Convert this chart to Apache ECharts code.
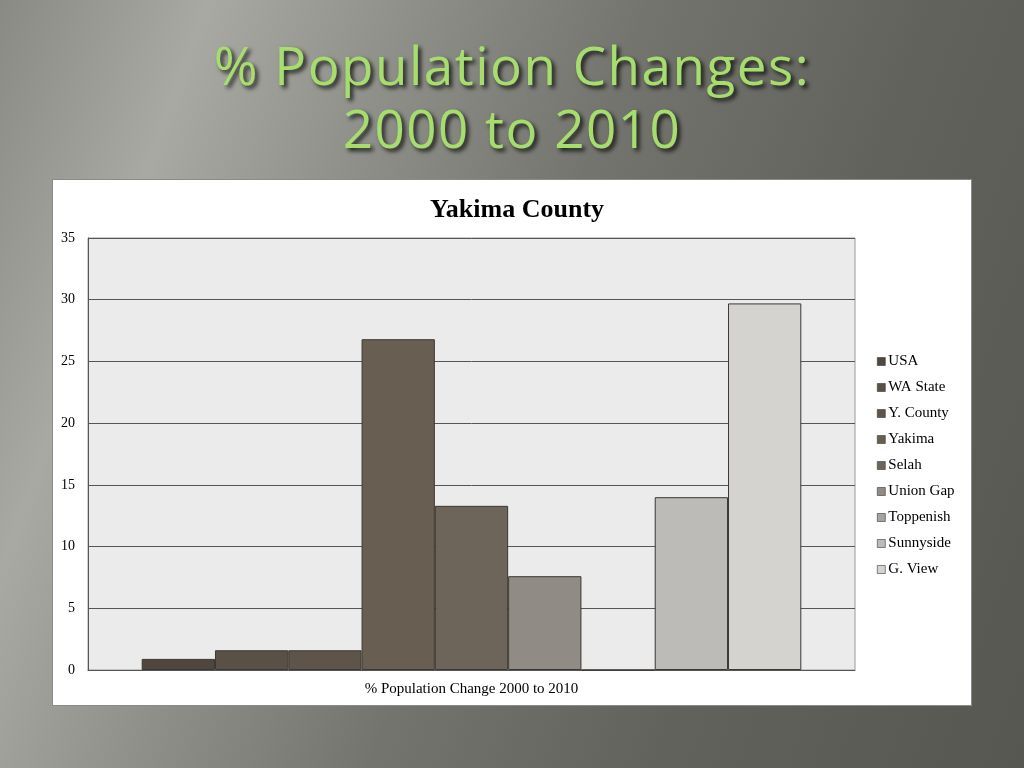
<!DOCTYPE html>
<html>
<head>
<meta charset="utf-8">
<title>% Population Changes: 2000 to 2010</title>
<script src="https://cdn.jsdelivr.net/npm/echarts@6/dist/echarts.min.js"></script>
<style>
    html, body {
        margin: 0;
        padding: 0;
        width: 1024px;
        height: 768px;
        overflow: hidden;
    }
    body {
        position: relative;
        background: linear-gradient(110deg, #8a8a84 0%, #a9a9a3 16%, #8f8f89 32%, #74746e 50%, #62625c 72%, #575751 100%);
    }
    .slide-title {
        position: absolute;
        left: 0;
        top: 33px;
        width: 1024px;
        margin: 0;
        text-align: center;
        font-family: "Open Sans", sans-serif;
        font-weight: normal;
        font-size: 53px;
        line-height: 63px;
        letter-spacing: 1.5px;
        color: #a6dd6e;
        text-shadow: 3px 3px 4px rgba(0, 0, 0, 0.8);
    }
    .panel {
        position: absolute;
        left: 52px;
        top: 179px;
        width: 918px;
        height: 525px;
        background: #ffffff;
        border: 1px solid #8a8a8a;
    }
    #chart {
        position: absolute;
        left: 0;
        top: 0;
        width: 1024px;
        height: 768px;
    }
</style>
</head>
<body>
<h1 class="slide-title">% Population Changes:<br>2000 to 2010</h1>
<div class="panel"></div>
<div id="chart"></div>
<script>
    // 数据
    var categories = ['% Population Change 2000 to 2010'];
    var seriesNames = ['USA', 'WA State', 'Y. County', 'Yakima', 'Selah', 'Union Gap', 'Toppenish', 'Sunnyside', 'G. View'];
    var seriesValues = [0.9, 1.6, 1.6, 26.8, 13.3, 7.6, 0, 14.0, 29.7];
    var seriesColors = ['#4f463d', '#595046', '#5e5449', '#685e52', '#6e655a', '#918b85', '#a6a4a0', '#bdbbb7', '#d4d3d0'];
    var yTicks = { min: 0, max: 35, interval: 5 };

    var serif = '"Liberation Serif", "DejaVu Serif", serif';

    var series = [];
    for (var i = 0; i < seriesNames.length; i++) {
        series.push({
            name: seriesNames[i],
            type: 'bar',
            barGap: '0%',
            barCategoryGap: '14%',
            itemStyle: {
                color: seriesColors[i],
                borderColor: '#3b3732',
                borderWidth: 1
            },
            data: [seriesValues[i]]
        });
    }

    var myChart = echarts.init(document.getElementById('chart'));
    myChart.setOption({
        animation: false,
        title: {
            text: 'Yakima County',
            left: 512,
            top: 192,
            textAlign: 'center',
            textStyle: {
                fontFamily: serif,
                fontWeight: 'bold',
                fontSize: 26,
                color: '#000'
            }
        },
        legend: {
            orient: 'vertical',
            left: 872,
            top: 349,
            icon: 'rect',
            itemWidth: 8,
            itemHeight: 8,
            itemGap: 11,
            itemStyle: {
                borderColor: '#3b3732',
                borderWidth: 0.6
            },
            textStyle: {
                fontFamily: serif,
                fontSize: 15,
                color: '#000',
                padding: [0, 0, 0, -2]
            },
            data: seriesNames
        },
        grid: {
            left: 88,
            right: 169,
            top: 238,
            bottom: 98,
            show: true,
            backgroundColor: '#ebebeb',
            borderColor: '#9a9a9a',
            borderWidth: 1
        },
        xAxis: [{
            type: 'category',
            data: categories,
            axisTick: { show: false },
            axisLine: { lineStyle: { color: '#555', width: 1 } },
            axisLabel: {
                margin: 12,
                fontFamily: serif,
                fontSize: 15,
                color: '#000'
            }
        }],
        yAxis: [{
            type: 'value',
            min: yTicks.min,
            max: yTicks.max,
            interval: yTicks.interval,
            axisLine: { show: true, lineStyle: { color: '#555' } },
            axisTick: { show: false },
            axisLabel: {
                margin: 13,
                fontFamily: serif,
                fontSize: 14,
                color: '#000'
            },
            splitLine: { lineStyle: { color: '#555', width: 1 } }
        }],
        series: series
    });
</script>
</body>
</html>
